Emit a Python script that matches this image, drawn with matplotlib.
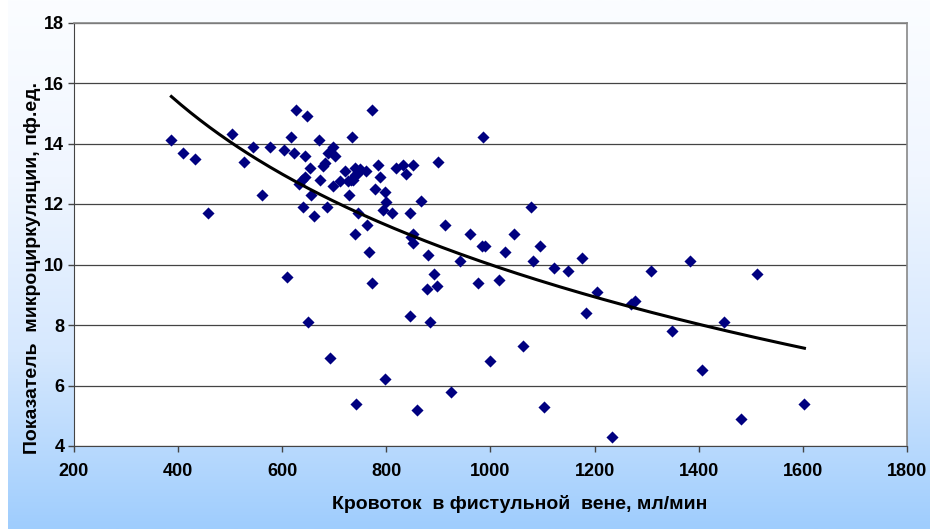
import numpy as np
import matplotlib
matplotlib.use("Agg")
import matplotlib.pyplot as plt
from matplotlib.colors import LinearSegmentedColormap

# кровоток (мл/мин) и показатель микроциркуляции (пф.ед.)
flow = [387, 410, 433, 458, 503, 527, 543, 561, 577, 603,
        616, 622, 627, 648, 643, 653, 637, 643, 633, 639,
        656, 661, 671, 673, 686, 698, 697, 688, 702, 682,
        678, 711, 720, 727, 733, 728, 734, 739, 744, 749,
        760, 746, 739, 736, 773, 784, 787, 779, 798, 800,
        794, 810, 818, 832, 837, 851, 867, 845, 746, 763,
        739, 766, 851, 851, 848, 879, 899, 986, 1078, 912,
        961, 984, 990, 942, 1027, 1046, 1096, 1081, 1122, 1149,
        1176, 892, 976, 1016, 898, 878, 1205, 1309, 1383, 1511,
        1270, 1278, 1448, 1349, 1406, 1603, 1482, 1234, 1184, 609,
        650, 773, 691, 741, 797, 846, 883, 858, 925, 1000,
        1062, 1102]
micro = [14.1, 13.7, 13.5, 11.7, 14.3, 13.4, 13.9, 12.3, 13.9, 13.8,
         14.2, 13.7, 15.1, 14.9, 13.6, 13.2, 12.8, 12.9, 12.65, 11.9,
         12.3, 11.6, 14.1, 12.8, 11.9, 12.6, 13.9, 13.7, 13.6, 13.35,
         13.25, 12.75, 13.1, 12.75, 12.8, 12.3, 14.2, 13.2, 13.0, 13.15,
         13.1, 13.05, 12.95, 12.8, 15.1, 13.3, 12.9, 12.5, 12.4, 12.05,
         11.8, 11.7, 13.2, 13.3, 13.0, 13.3, 12.1, 11.7, 11.7, 11.3,
         11.0, 10.4, 11.0, 10.7, 10.9, 10.3, 13.4, 14.2, 11.9, 11.3,
         11.0, 10.6, 10.6, 10.1, 10.4, 11.0, 10.6, 10.1, 9.9, 9.8,
         10.2, 9.7, 9.4, 9.5, 9.3, 9.2, 9.1, 9.8, 10.1, 9.7,
         8.7, 8.8, 8.1, 7.8, 6.5, 5.4, 4.9, 4.3, 8.4, 9.6,
         8.1, 9.4, 6.9, 5.4, 6.2, 8.3, 8.1, 5.2, 5.8, 6.8,
         7.3, 5.3]

x_ticks = [200, 400, 600, 800, 1000, 1200, 1400, 1600, 1800]
y_ticks = [4, 6, 8, 10, 12, 14, 16, 18]

fig = plt.figure(figsize=(9.36, 5.29), dpi=100)
fig.patch.set_facecolor("white")

# градиентный фон
bg = fig.add_axes([8 / 936, 0, 922 / 936, 1])
cmap = LinearSegmentedColormap.from_list("bg", ["#fbfdff", "#f0f6ff", "#d6e8fe", "#9fcdfd"])
grad = np.linspace(0, 1, 256).reshape(-1, 1)
bg.imshow(grad, aspect="auto", cmap=cmap, extent=[0, 1, 0, 1], origin="upper")
bg.axis("off")

ax = fig.add_axes([74 / 936, 1 - 446 / 529, 833 / 936, 423.5 / 529])
ax.set_facecolor("white")
ax.scatter(flow, micro, marker="D", s=38, color="#000080", zorder=3, linewidths=0)

# логарифмическая линия тренда
x = np.array(flow, dtype=float)
y = np.array(micro)
b, a = np.polyfit(np.log(x), y, 1)
xs = np.linspace(x.min(), x.max(), 200)
ax.plot(xs, a + b * np.log(xs), color="black", lw=2.2, zorder=4)

ax.set_xlim(200, 1800)
ax.set_ylim(4, 18)
ax.set_xticks(x_ticks)
ax.set_yticks(y_ticks)
ax.grid(axis="y", color="#444444", lw=0.9)
ax.set_axisbelow(True)
for s in ["top", "right"]:
    ax.spines[s].set_color("#888888")
    ax.spines[s].set_linewidth(1.2)
for s in ["left", "bottom"]:
    ax.spines[s].set_color("#444444")
ax.tick_params(direction="out", length=4, width=1, color="#444444")

fnt = {"family": ["Liberation Sans", "DejaVu Sans"], "weight": "bold"}
for lab in ax.get_xticklabels() + ax.get_yticklabels():
    lab.set_fontfamily(fnt["family"])
    lab.set_fontweight("bold")
    lab.set_fontsize(13)
ax.tick_params(axis="x", pad=8)
ax.tick_params(axis="y", pad=3)

fig.text(520 / 936, 1 - 504 / 529, "Кровоток  в фистульной  вене, мл/мин",
         ha="center", va="center", fontsize=14, **fnt)
fig.text(33 / 936, 1 - 268 / 529, "Показатель  микроциркуляции, пф.ед.",
         rotation=90, ha="center", va="center", fontsize=14, **fnt)

fig.savefig("out.png", dpi=100, facecolor=fig.get_facecolor())
